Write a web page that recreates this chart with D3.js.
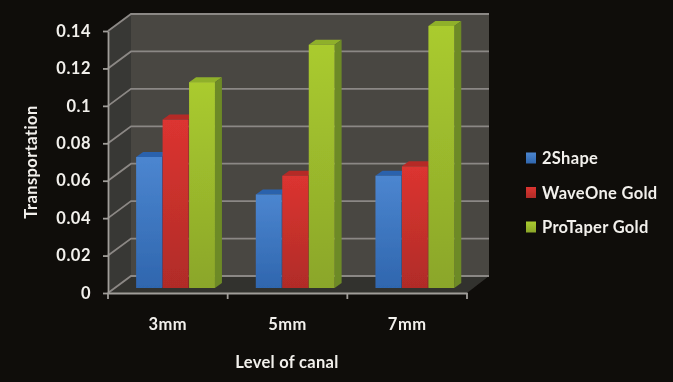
<!DOCTYPE html>
<html>
<head>
<meta charset="utf-8">
<script src="https://cdn.jsdelivr.net/npm/d3@7"></script>
<style>
  html, body { margin: 0; padding: 0; background: #0f0d0a; }
  svg { display: block; }
  text { font-family: Lato, "Open Sans", sans-serif; fill: #f2f0ec; }
</style>
</head>
<body>
<div id="chart"></div>
<script>
const categories = ["3mm", "5mm", "7mm"];
const seriesNames = ["2Shape", "WaveOne Gold", "ProTaper Gold"];
const shape2 = [0.07, 0.05, 0.06];
const waveOne = [0.09, 0.06, 0.065];
const proTaper = [0.11, 0.13, 0.14];
const tickValues = [0, 0.02, 0.04, 0.06, 0.08, 0.1, 0.12, 0.14];
const seriesValues = [shape2, waveOne, proTaper];

const colors = [
    { light: "#4c86d0", dark: "#2f66ae", top: "#2a62ad", side: "#234f8c" },
    { light: "#dc3430", dark: "#b02c28", top: "#b52a27", side: "#8c2220" },
    { light: "#aacb2f", dark: "#8ba62a", top: "#8fb02a", side: "#6d8a26" }
];

const width = 673, height = 382;
const x0 = 108, x1 = 467, yBase = 293, yTop = 31;
const depthX = 23, depthY = 17;      // offset of the back wall
const barDx = 8, barDy = 5;          // bars stand a little behind the front edge
const sideW = 7, topH = 5;

const svg = d3.select("#chart").append("svg")
    .attr("width", width)
    .attr("height", height);

const defs = svg.append("defs");
defs.append("filter").attr("id", "soft")
    .append("feGaussianBlur").attr("stdDeviation", 0.6);

colors.forEach((c, i) => {
    const g = defs.append("linearGradient")
        .attr("id", "bar" + i)
        .attr("x1", 0).attr("y1", 0).attr("x2", 0).attr("y2", 1);
    g.append("stop").attr("offset", "0%").attr("stop-color", c.light);
    g.append("stop").attr("offset", "100%").attr("stop-color", c.dark);
});

const root = svg.append("g").attr("filter", "url(#soft)");

const y = d3.scaleLinear().domain([0, 0.14]).range([yBase, yTop]);
const x = d3.scaleBand().domain(categories).range([x0, x1]);
const xSeries = d3.scaleBand().domain(d3.range(seriesNames.length))
    .range([0, x.bandwidth()]).paddingOuter(0.76).paddingInner(0);

// walls and floor
root.append("polygon")
    .attr("points", [[x0 + depthX, y(0.14) - depthY], [x1 + depthX - 1, y(0.14) - depthY], [x1 + depthX - 1, yBase - depthY], [x0 + depthX, yBase - depthY]].join(" "))
    .attr("fill", "#4a4643");
root.append("polygon")
    .attr("points", [[x0, yBase], [x0, y(0.14)], [x0 + depthX, y(0.14) - depthY], [x0 + depthX, yBase - depthY]].join(" "))
    .attr("fill", "#393734");
root.append("polygon")
    .attr("points", [[x0, yBase], [x0 + depthX, yBase - depthY], [x1 + depthX - 1, yBase - depthY], [x1, yBase]].join(" "))
    .attr("fill", "#33312e");

// gridlines run along the side wall and the back wall
root.append("g").selectAll("polyline")
    .data(tickValues)
    .enter().append("polyline")
    .attr("points", d => [[x0, y(d)], [x0 + depthX, y(d) - depthY], [x1 + depthX - 1, y(d) - depthY]].join(" "))
    .attr("fill", "none")
    .attr("stroke", "#8b8885")
    .attr("stroke-width", 1.8);

// axes
const yAxis = root.append("g")
    .attr("transform", `translate(${x0},0)`)
    .call(d3.axisLeft(y).tickValues(tickValues).tickSize(5).tickSizeOuter(0).tickPadding(12).tickFormat(d => String(d)));
const xAxis = root.append("g")
    .attr("transform", `translate(0,${yBase})`)
    .call(d3.axisBottom(x).tickSize(0).tickPadding(25));

[yAxis, xAxis].forEach(a => {
    a.selectAll("path, line").attr("stroke", "#a09d99").attr("stroke-width", 1.8);
    a.selectAll("text")
        .attr("font-size", 16.5)
        .attr("font-weight", 700)
        .attr("letter-spacing", 0.5)
        .attr("fill", "#f2f0ec")
        .attr("font-family", "Lato");
});

// category separators under the x axis
root.append("g").selectAll("line")
    .data([x0, x("5mm"), x("7mm"), x1])
    .enter().append("line")
    .attr("x1", d => d).attr("x2", d => d)
    .attr("y1", yBase).attr("y2", yBase + 6)
    .attr("stroke", "#a09d99")
    .attr("stroke-width", 1.8);

// bars, drawn left to right so each one covers its neighbour's side
categories.forEach((cat, ci) => {
    seriesValues.forEach((vals, si) => {
        const left = x(cat) + xSeries(si) + barDx;
        const w = xSeries.bandwidth() - 0.6;
        const top = y(vals[ci]) - barDy;
        const bottom = yBase - barDy;
        const g = root.append("g");
        g.append("polygon")
            .attr("points", [[left, top], [left + sideW, top - topH], [left + w + sideW, top - topH], [left + w, top]].join(" "))
            .attr("fill", colors[si].top);
        g.append("polygon")
            .attr("points", [[left + w, top], [left + w + sideW, top - topH], [left + w + sideW, bottom - topH], [left + w, bottom]].join(" "))
            .attr("fill", colors[si].side);
        g.append("rect")
            .attr("x", left).attr("y", top)
            .attr("width", w).attr("height", bottom - top)
            .attr("fill", `url(#bar${si})`);
    });
});

// axis titles
root.append("text")
    .attr("transform", "translate(37,162) rotate(-90)")
    .attr("text-anchor", "middle")
    .attr("font-size", 16.5)
    .attr("font-weight", 700)
    .attr("letter-spacing", 0.4)
    .text("Transportation");
root.append("text")
    .attr("x", 287).attr("y", 368)
    .attr("text-anchor", "middle")
    .attr("font-size", 16.5)
    .attr("font-weight", 700)
    .attr("letter-spacing", 0.3)
    .text("Level of canal");

// legend
const legendY = d3.scalePoint().domain(seriesNames).range([158, 227]);
const legend = root.append("g").selectAll("g")
    .data(seriesNames)
    .enter().append("g")
    .attr("transform", d => `translate(526,${legendY(d)})`);
legend.append("rect")
    .attr("x", 0).attr("y", -5.5)
    .attr("width", 10).attr("height", 11)
    .attr("fill", (d, i) => `url(#bar${i})`);
legend.append("text")
    .attr("x", 16).attr("y", 6)
    .attr("font-size", 16.5)
    .attr("font-weight", 700)
    .attr("letter-spacing", 0.3)
    .text(d => d);
</script>
</body>
</html>
